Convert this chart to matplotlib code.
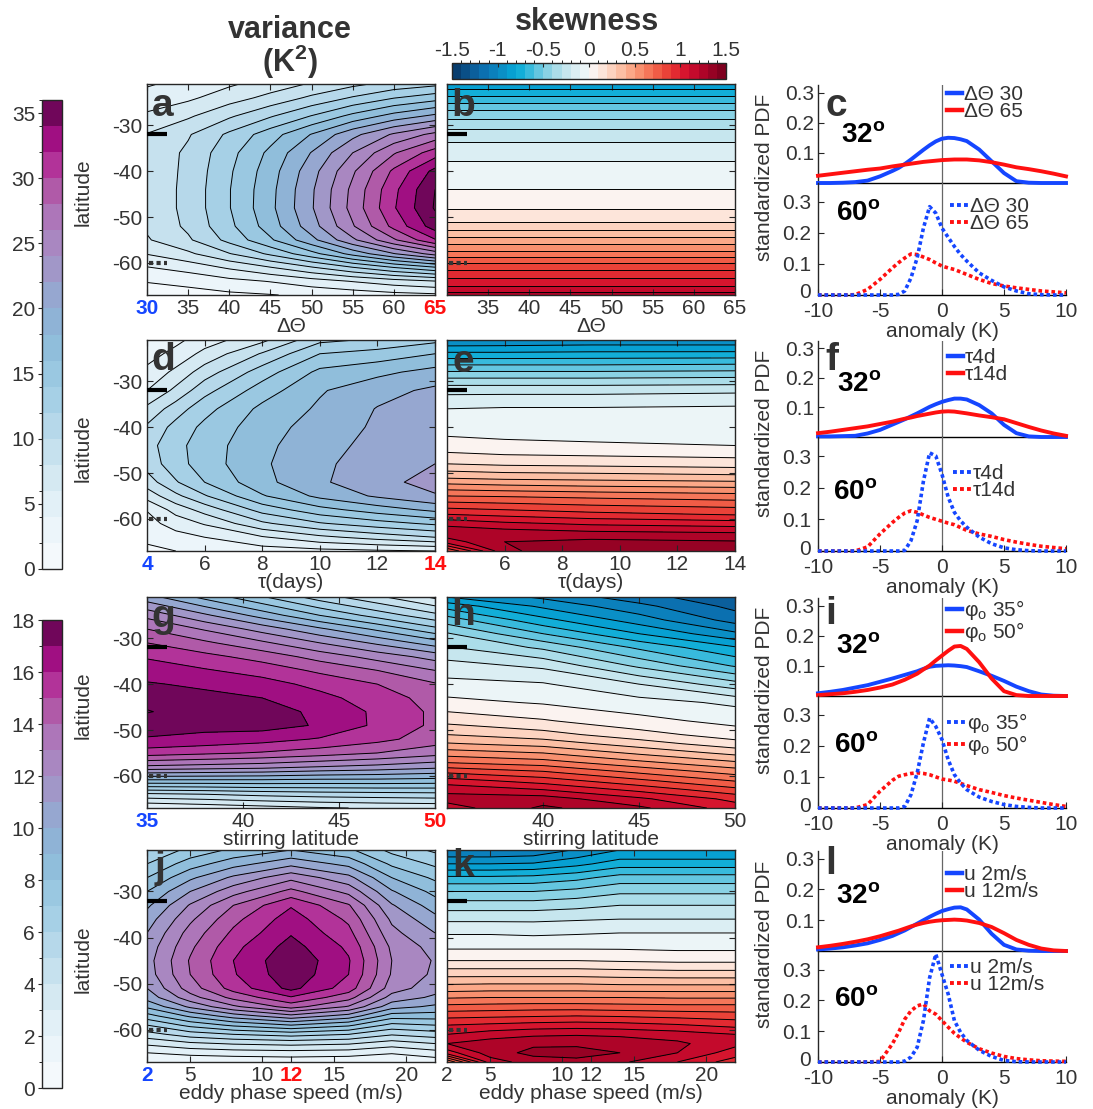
import numpy as np
import matplotlib
matplotlib.use("Agg")
import matplotlib.pyplot as plt
from matplotlib.colors import ListedColormap, BoundaryNorm
from matplotlib.cm import ScalarMappable
from matplotlib.lines import Line2D
from matplotlib.transforms import blended_transform_factory, ScaledTranslation

plt.rcParams['font.family'] = ['Liberation Sans', 'DejaVu Sans']
plt.rcParams['mathtext.fontset'] = 'custom'
plt.rcParams['mathtext.rm'] = 'Liberation Sans'
plt.rcParams['mathtext.it'] = 'Liberation Sans:italic'
plt.rcParams['mathtext.bf'] = 'Liberation Sans:bold'
plt.rcParams['axes.unicode_minus'] = False
plt.rcParams['contour.negative_linestyle'] = 'solid'

# ------------------------------------------------------------------ data
# panel a : variance (K^2) vs Delta Theta (columns) and latitude (rows)
lat_a = [-67, -64, -61, -58, -55, -52, -48, -44, -40, -36, -32, -28, -24, -21]
dtheta = [30, 35, 40, 45, 50, 55, 60, 65]
var_a = [
    [1.0, 1.2, 1.6, 1.9, 2.4, 2.8, 3.3, 3.6],
    [2.1, 2.6, 3.4, 4.1, 5.1, 6.1, 7.1, 7.9],
    [3.9, 4.8, 6.3, 7.9, 9.8, 11.9, 14.0, 15.8],
    [6.1, 7.6, 9.9, 12.4, 15.3, 18.7, 21.9, 24.8],
    [7.8, 9.7, 12.6, 15.7, 19.4, 23.6, 27.7, 31.8],
    [8.3, 10.4, 13.5, 17.0, 21.1, 25.8, 30.6, 35.0],
    [8.5, 10.6, 13.9, 17.5, 21.8, 26.7, 31.8, 36.2],
    [8.5, 10.6, 13.9, 17.4, 21.7, 26.5, 31.5, 36.0],
    [8.5, 10.5, 13.7, 17.1, 21.2, 25.7, 30.4, 34.6],
    [8.5, 10.4, 13.3, 16.5, 20.1, 24.0, 27.8, 31.0],
    [8.1, 9.8, 12.4, 15.1, 18.1, 21.4, 24.3, 26.6],
    [6.4, 7.7, 9.7, 11.8, 14.1, 16.6, 18.8, 20.5],
    [4.7, 5.6, 7.1, 8.6, 10.4, 12.2, 13.9, 15.1],
    [3.8, 4.6, 5.7, 6.9, 8.2, 9.5, 10.7, 11.5],
]

# panel b : skewness, independent of Delta Theta
lat_s = [-67, -65, -63, -61, -59, -57, -55, -53, -51, -48, -44, -40, -36, -32, -29, -26, -23, -21]
dtheta_b = [30, 65]
skew_b = [1.25, 1.09, 0.99, 0.87, 0.72, 0.57, 0.44, 0.31, 0.20, 0.09, 0.0, -0.06, -0.13, -0.25, -0.38, -0.54, -0.74, -0.87]

# panel d : variance vs tau (one list per tau, along lat_a)
tau = [4, 5, 6, 8, 10, 12, 14]
var_d = [
    [1.5, 2.5, 3.3, 4.1, 6.8, 9.0, 10.8, 11.2, 10.3, 8.5, 6.0, 4.5, 3.2, 2.5],
    [2.0, 3.3, 4.8, 6.8, 9.5, 11.8, 13.2, 13.4, 12.7, 11.0, 8.5, 6.5, 4.6, 3.5],
    [2.3, 4.0, 6.2, 8.8, 11.8, 14.0, 15.0, 15.0, 14.5, 13.3, 11.3, 9.0, 6.6, 5.0],
    [3.0, 5.8, 9.6, 12.8, 15.8, 17.4, 17.7, 17.5, 17.1, 16.5, 15.0, 13.0, 10.2, 7.5],
    [3.4, 7.5, 11.8, 15.3, 18.5, 19.7, 19.6, 19.3, 18.9, 18.3, 17.8, 16.5, 14.0, 11.5],
    [3.7, 8.8, 13.2, 17.0, 20.3, 21.3, 21.0, 20.6, 20.3, 20.1, 19.3, 17.5, 14.8, 12.3],
    [4.0, 10.0, 14.4, 18.5, 21.8, 22.8, 22.0, 21.5, 21.2, 20.9, 20.4, 18.7, 16.0, 13.5],
]

# panel e : skewness vs tau (along lat_s)
tau_e = [4, 6, 9, 14]
skew_e = [
    [0.80, 1.15, 1.27, 1.17, 1.00, 0.85, 0.70, 0.55, 0.39, 0.20, 0.04, -0.04, -0.10, -0.23, -0.42, -0.63, -0.85, -0.99],
    [1.28, 1.30, 1.25, 1.12, 0.97, 0.83, 0.69, 0.53, 0.37, 0.18, 0.02, -0.04, -0.09, -0.23, -0.42, -0.63, -0.85, -0.98],
    [1.38, 1.33, 1.22, 1.08, 0.93, 0.80, 0.67, 0.51, 0.36, 0.17, 0.01, -0.04, -0.09, -0.23, -0.42, -0.63, -0.84, -0.97],
    [1.38, 1.31, 1.20, 1.05, 0.89, 0.77, 0.64, 0.49, 0.34, 0.15, 0.00, -0.03, -0.08, -0.22, -0.41, -0.62, -0.84, -0.97],
]

# panel g : variance vs stirring latitude
lat_g = [-67, -64, -61, -58, -55, -52, -49, -46, -43, -40, -37, -34, -31, -28, -25, -21]
phi = [35, 38, 41, 44, 47, 50]
var_g = [
    [2.0, 4.8, 8.8, 12.8, 15.5, 16.9, 17.5, 18.05, 17.7, 17.1, 16.5, 15.9, 15.0, 14.0, 12.7, 10.4],
    [2.3, 5.0, 8.8, 12.6, 15.2, 16.7, 17.3, 17.6, 17.3, 16.8, 16.1, 15.3, 14.2, 12.9, 11.2, 8.7],
    [2.6, 5.3, 8.8, 12.4, 14.9, 16.4, 17.4, 17.4, 17.0, 16.4, 15.6, 14.6, 13.2, 11.6, 9.6, 7.1],
    [2.9, 5.5, 8.7, 12.0, 14.5, 15.9, 16.9, 16.8, 16.3, 15.7, 14.8, 13.6, 12.0, 10.2, 8.0, 5.5],
    [3.1, 5.6, 8.7, 11.7, 14.0, 15.3, 15.8, 15.8, 15.5, 15.0, 14.0, 12.6, 10.8, 8.8, 6.6, 4.2],
    [3.2, 5.7, 8.6, 11.3, 13.4, 14.5, 14.8, 14.8, 14.6, 14.1, 13.0, 11.6, 9.5, 7.3, 5.3, 2.8],
]

# panel h : skewness vs stirring latitude (along lat_s)
phi_h = [35, 40, 45, 50]
skew_h = [
    [1.15, 1.24, 1.17, 1.04, 0.87, 0.69, 0.55, 0.41, 0.30, 0.17, 0.03, -0.07, -0.16, -0.29, -0.39, -0.55, -0.74, -0.90],
    [1.32, 1.25, 1.10, 0.95, 0.80, 0.64, 0.50, 0.36, 0.24, 0.11, -0.01, -0.09, -0.22, -0.42, -0.60, -0.77, -0.92, -1.02],
    [1.22, 1.12, 0.97, 0.82, 0.67, 0.52, 0.38, 0.25, 0.14, 0.03, -0.06, -0.20, -0.42, -0.62, -0.80, -0.95, -1.07, -1.16],
    [1.05, 0.97, 0.83, 0.69, 0.55, 0.41, 0.27, 0.14, 0.05, -0.03, -0.12, -0.36, -0.61, -0.79, -0.98, -1.14, -1.23, -1.28],
]

# panel j : variance vs eddy phase speed
lat_j = [-67, -65, -63, -61, -59, -57, -55, -53, -51, -48, -45, -42, -39, -36, -33, -30, -27, -24, -21]
speed = [2, 5, 8, 12, 16, 19, 22]
var_j = [
    [1.0, 2.0, 3.2, 4.6, 6.0, 7.6, 9.2, 10.4, 11.0, 11.5, 11.6, 11.4, 11.0, 10.5, 9.8, 9.0, 8.0, 7.0, 6.0],
    [1.2, 2.3, 3.8, 5.5, 7.3, 9.2, 11.2, 12.6, 13.5, 14.0, 14.1, 13.8, 13.4, 12.8, 12.1, 11.0, 9.8, 8.5, 7.3],
    [1.2, 2.5, 4.1, 6.0, 8.2, 10.5, 12.8, 14.3, 15.4, 15.9, 16.0, 15.7, 15.2, 14.7, 14.0, 12.6, 11.2, 9.6, 8.2],
    [1.3, 2.6, 4.3, 6.4, 9.0, 11.7, 14.4, 15.9, 17.3, 17.7, 17.8, 17.4, 16.9, 16.5, 15.9, 14.3, 12.7, 10.7, 9.0],
    [1.2, 2.5, 4.1, 6.0, 8.2, 10.6, 12.9, 14.4, 15.5, 16.0, 16.1, 15.8, 15.3, 14.8, 14.1, 12.7, 11.3, 9.7, 8.2],
    [1.1, 2.1, 3.5, 5.1, 6.7, 8.5, 10.4, 11.6, 12.5, 12.9, 13.0, 12.8, 12.3, 11.8, 11.1, 10.1, 9.0, 7.8, 6.7],
    [1.4, 2.6, 4.0, 5.5, 7.0, 8.5, 9.8, 10.8, 11.4, 11.8, 11.9, 11.6, 11.0, 10.3, 9.5, 8.7, 7.8, 6.8, 5.8],
]

# panel k : skewness vs eddy phase speed (along lat_j)
speed_k = [2, 5, 8, 11, 14, 18, 22]
skew_k = [
    [0.60, 1.05, 1.20, 1.10, 1.00, 0.87, 0.73, 0.59, 0.45, 0.27, 0.10, -0.02, -0.11, -0.22, -0.35, -0.50, -0.68, -0.90, -1.10],
    [1.15, 1.25, 1.25, 1.15, 1.02, 0.88, 0.74, 0.60, 0.46, 0.27, 0.10, -0.02, -0.11, -0.22, -0.35, -0.50, -0.68, -0.90, -1.10],
    [1.25, 1.33, 1.28, 1.18, 1.04, 0.89, 0.75, 0.60, 0.46, 0.27, 0.10, -0.02, -0.12, -0.22, -0.35, -0.50, -0.67, -0.89, -1.08],
    [1.27, 1.34, 1.28, 1.19, 1.05, 0.90, 0.75, 0.60, 0.46, 0.27, 0.10, -0.02, -0.11, -0.21, -0.33, -0.47, -0.63, -0.83, -0.99],
    [1.22, 1.30, 1.26, 1.18, 1.04, 0.89, 0.74, 0.60, 0.45, 0.26, 0.09, -0.02, -0.10, -0.20, -0.30, -0.42, -0.56, -0.75, -0.90],
    [1.10, 1.20, 1.22, 1.15, 1.01, 0.87, 0.73, 0.59, 0.45, 0.25, 0.08, -0.03, -0.10, -0.20, -0.30, -0.42, -0.56, -0.75, -0.90],
    [0.95, 1.05, 1.13, 1.10, 0.97, 0.85, 0.73, 0.59, 0.45, 0.25, 0.08, -0.03, -0.10, -0.20, -0.30, -0.42, -0.56, -0.75, -0.90],
]

# latitudes marked on the contour panels (solid: 32S, dotted: 60S)
mark_solid = -32
mark_dotted = -60

# standardized PDFs
pdf_x = [-10, -9, -8, -7, -6, -5, -4, -3.5, -3, -2.5, -2, -1.5, -1, -0.5, 0, 0.5, 1, 1.5, 2, 3, 4, 5, 6, 7, 8, 9, 10]
c32_blue = [0, 0, 0.001, 0.003, 0.008, 0.022, 0.04, 0.05, 0.063, 0.078, 0.094, 0.11, 0.125, 0.138, 0.147, 0.15, 0.149, 0.145, 0.139, 0.111, 0.072, 0.033, 0.006, 0.001, 0, 0, 0]
c32_red = [0.024, 0.029, 0.034, 0.039, 0.044, 0.048, 0.055, 0.058, 0.061, 0.064, 0.067, 0.07, 0.072, 0.074, 0.076, 0.077, 0.078, 0.078, 0.078, 0.075, 0.069, 0.061, 0.052, 0.046, 0.039, 0.031, 0.022]
c60_blue = [0, 0, 0, 0, 0, 0, 0, 0.002, 0.013, 0.055, 0.12, 0.215, 0.284, 0.263, 0.215, 0.185, 0.156, 0.13, 0.109, 0.071, 0.047, 0.026, 0.013, 0.004, 0.001, 0, 0]
c60_red = [0, 0, 0, 0.001, 0.018, 0.05, 0.087, 0.104, 0.119, 0.132, 0.13, 0.122, 0.114, 0.103, 0.093, 0.087, 0.082, 0.074, 0.066, 0.05, 0.037, 0.029, 0.023, 0.018, 0.013, 0.01, 0.007]
f32_blue = [0.002, 0.002, 0.003, 0.004, 0.012, 0.024, 0.042, 0.051, 0.06, 0.07, 0.08, 0.091, 0.102, 0.111, 0.119, 0.125, 0.13, 0.13, 0.127, 0.108, 0.08, 0.041, 0.013, 0.002, 0, 0, 0]
f32_red = [0.013, 0.018, 0.024, 0.03, 0.036, 0.044, 0.052, 0.057, 0.062, 0.066, 0.071, 0.075, 0.079, 0.083, 0.086, 0.087, 0.086, 0.083, 0.08, 0.073, 0.067, 0.06, 0.047, 0.034, 0.022, 0.012, 0.004]
f60_blue = [0, 0, 0, 0, 0, 0, 0, 0, 0.002, 0.033, 0.096, 0.22, 0.31, 0.3, 0.242, 0.17, 0.122, 0.095, 0.075, 0.044, 0.023, 0.01, 0.004, 0.001, 0, 0, 0]
f60_red = [0, 0, 0, 0, 0.013, 0.054, 0.09, 0.106, 0.12, 0.127, 0.122, 0.114, 0.106, 0.1, 0.094, 0.088, 0.083, 0.074, 0.065, 0.054, 0.046, 0.036, 0.028, 0.021, 0.015, 0.011, 0.007]
i32_blue = [0.009, 0.014, 0.02, 0.028, 0.036, 0.047, 0.058, 0.064, 0.07, 0.076, 0.082, 0.09, 0.097, 0.1, 0.101, 0.102, 0.101, 0.099, 0.096, 0.082, 0.067, 0.05, 0.031, 0.016, 0.005, 0.001, 0]
i32_red = [0.003, 0.006, 0.009, 0.014, 0.02, 0.028, 0.038, 0.046, 0.054, 0.064, 0.074, 0.088, 0.101, 0.118, 0.134, 0.15, 0.164, 0.166, 0.156, 0.112, 0.058, 0.016, 0.003, 0, 0, 0, 0]
i60_blue = [0, 0, 0, 0, 0, 0, 0, 0, 0.005, 0.043, 0.113, 0.209, 0.289, 0.262, 0.22, 0.155, 0.107, 0.08, 0.059, 0.035, 0.021, 0.011, 0.005, 0.002, 0, 0, 0]
i60_red = [0, 0, 0, 0, 0.011, 0.054, 0.089, 0.102, 0.107, 0.111, 0.113, 0.111, 0.107, 0.1, 0.093, 0.09, 0.086, 0.079, 0.072, 0.059, 0.05, 0.04, 0.032, 0.025, 0.018, 0.011, 0.005]
l32_blue = [0.005, 0.008, 0.012, 0.018, 0.025, 0.036, 0.049, 0.058, 0.067, 0.078, 0.089, 0.1, 0.111, 0.121, 0.13, 0.136, 0.141, 0.142, 0.135, 0.102, 0.056, 0.02, 0.005, 0.001, 0, 0, 0]
l32_red = [0.012, 0.017, 0.023, 0.03, 0.038, 0.048, 0.06, 0.066, 0.073, 0.08, 0.086, 0.091, 0.095, 0.098, 0.1, 0.101, 0.102, 0.101, 0.099, 0.091, 0.078, 0.058, 0.036, 0.02, 0.008, 0.002, 0]
l60_blue = [0, 0, 0, 0, 0, 0, 0, 0, 0.003, 0.016, 0.048, 0.134, 0.273, 0.35, 0.284, 0.22, 0.134, 0.096, 0.07, 0.038, 0.018, 0.005, 0.001, 0, 0, 0, 0]
l60_red = [0, 0, 0, 0, 0, 0.002, 0.059, 0.096, 0.139, 0.166, 0.182, 0.188, 0.166, 0.155, 0.134, 0.113, 0.093, 0.078, 0.064, 0.043, 0.029, 0.018, 0.011, 0.007, 0.004, 0.003, 0.002]

legend_c = ['ΔΘ 30', 'ΔΘ 65']
legend_f = ['τ4d', 'τ14d']
legend_i = [r'φ$_\mathrm{o}$ 35°', r'φ$_\mathrm{o}$ 50°']
legend_l = ['u 2m/s', 'u 12m/s']

# ------------------------------------------------------------------ styles
VAR_COLORS = ['#f4f9fc', '#ecf5fa', '#e2f0f7', '#d5e9f2', '#c6e1ee', '#b6d8ea',
              '#a6d0e6', '#9ac8e1', '#90bedb', '#8fb3d6', '#96a7d0', '#a197c8',
              '#a987c1', '#ad76b9', '#b05aa8', '#b23399', '#a00f82', '#70065a']
SKEW_COLORS = ['#083d6e', '#0a4f86', '#0b5f9c', '#0b70b0', '#0b80bc', '#0a8fc6',
               '#07a0d2', '#12aed8', '#38badc', '#64c6e0', '#8ad2e4', '#abdde9',
               '#c6e6ee', '#dbeef3', '#ecf5f7', '#fbf3f0', '#fde5da', '#fdd3c0',
               '#fcbfa4', '#fba888', '#f8906f', '#f57659', '#f05c46', '#ea4238',
               '#e22a31', '#d6152e', '#c40a2c', '#ae0428', '#960224', '#7f001f']
LEV_VAR36 = np.arange(0, 37, 2)
LEV_VAR18 = np.arange(0, 19, 1)
LEV_SKEW = np.round(np.arange(-15, 16) / 10.0, 2)

TXT = '#333333'
EDGE = '#262626'
BLUE = '#1546ff'
RED = '#ff1010'
FS = 15      # tick / label font size
FS_LEG = 15

W, H = 1093, 1109
fig = plt.figure(figsize=(W / 100, H / 100), dpi=100)


def fx(x):
    return x / W


def fy(y):
    return 1 - y / H


def px_axes(x0, y0, x1, y1):
    return fig.add_axes([x0 / W, 1 - y1 / H, (x1 - x0) / W, (y1 - y0) / H])


ROWS = [(84, 295), (340, 551), (597, 808), (850, 1062)]
BASE = [183, 437, 696, 951]
COL1 = (147, 435)
COL2 = (447, 735)
PDFX = (818, 1066)


def contour_panel(col, row, x, lat, Z, levels, colors, xticks, xlabels, special,
                  xlabel, letter, letter_xy, show_ylabels):
    ax = px_axes(col[0], ROWS[row][0], col[1], ROWS[row][1])
    cmap = ListedColormap(colors).with_extremes(over=colors[-1], under=colors[0])
    Z = np.asarray(Z, dtype=float)
    ax.contourf(x, lat, Z, levels=levels, cmap=cmap, extend='both')
    ax.contour(x, lat, Z, levels=levels, colors='k', linewidths=0.7,
               negative_linestyles='solid')
    ax.set_xlim(x[0], x[-1])
    ax.set_ylim(-67, -21)
    ax.set_yticks([-60, -50, -40, -30])
    ax.tick_params(direction='in', length=4, width=0.8, top=True, right=True,
                   labelsize=FS, color=EDGE, labelcolor=TXT, pad=3)
    if show_ylabels:
        ax.set_yticklabels(['-60', '-50', '-40', '-30'])
    else:
        ax.set_yticklabels([])
    ax.set_xticks(xticks)
    ax.set_xticklabels(xlabels)
    for i, lbl in enumerate(ax.get_xticklabels()):
        if i in special:
            lbl.set_color(special[i])
            lbl.set_fontweight('bold')
    for s in ax.spines.values():
        s.set_color(EDGE)
        s.set_linewidth(1.0)
    ax.set_xlabel(xlabel, fontsize=FS, color=TXT, labelpad=-1)
    tr = blended_transform_factory(ax.transAxes, ax.transData)
    ax.plot([0, 0.07], [mark_solid, mark_solid], color='k', lw=3, transform=tr,
            solid_capstyle='butt', clip_on=False, zorder=5)
    ax.plot([0.006, 0.07], [mark_dotted, mark_dotted], color='#333333', lw=3,
            ls=(0, (1, 0.8)), transform=tr, clip_on=False, zorder=5)
    fig.text(fx(letter_xy[0]), fy(letter_xy[1]), letter, fontsize=28,
             fontweight='bold', color=TXT, ha='center', va='center')
    return ax


def pdf_panel(row, top, bot, labels, letter, letter_xy, t32, t60, leg_top, leg_bot):
    y0, y1 = ROWS[row]
    yb = BASE[row]
    axt = px_axes(PDFX[0], y0 + 1, PDFX[1], yb)
    axb = px_axes(PDFX[0], yb, PDFX[1], y1)
    for ax in (axt, axb):
        ax.set_xlim(-10, 10)
        ax.spines['top'].set_visible(False)
        ax.spines['right'].set_visible(False)
        ax.spines['left'].set_color(EDGE)
        ax.spines['bottom'].set_color('k')
        ax.spines['left'].set_linewidth(1.0)
        ax.spines['bottom'].set_linewidth(1.0)
        ax.axvline(0, color='#666666', lw=0.9, zorder=1)
        ax.tick_params(direction='in', length=4, width=0.8, labelsize=FS,
                       color=EDGE, labelcolor=TXT, pad=3)
        ax.patch.set_alpha(0)
    axt.set_ylim(0, 0.325)
    axt.set_yticks([0.1, 0.2, 0.3])
    axt.set_yticklabels(['0.1', '0.2', '0.3'])
    axt.tick_params(bottom=False, labelbottom=False)
    axb.set_ylim(0, 0.36)
    axb.set_yticks([0, 0.1, 0.2, 0.3])
    axb.set_yticklabels(['0', '0.1', '0.2', '0.3'])
    axb.set_xticks([-10, -5, 0, 5, 10])
    axb.set_xticklabels(['-10', '-5', '0', '5', '10'])
    axb.tick_params(axis='x', pad=5)
    axb.tick_params(axis='y', pad=5)
    # lift the "0" label a little so it clears the "-10" label below it
    zero_lbl = axb.get_yticklabels()[0]
    zero_lbl.set_transform(zero_lbl.get_transform() + ScaledTranslation(0, 4 / 100, fig.dpi_scale_trans))
    axb.set_xlabel('anomaly (K)', fontsize=FS, color=TXT, labelpad=1)

    axt.plot(pdf_x, top[0], color=BLUE, lw=2.8, clip_on=False, zorder=3)
    axt.plot(pdf_x, top[1], color=RED, lw=2.8, clip_on=False, zorder=4)
    dots = (0, (1, 0.8))
    axb.plot(pdf_x, bot[1], color=RED, lw=2.6, ls=dots, clip_on=False, zorder=3)
    axb.plot(pdf_x, bot[0], color=BLUE, lw=2.6, ls=dots, clip_on=False, zorder=4)

    hs = [Line2D([], [], color=BLUE, lw=3.2), Line2D([], [], color=RED, lw=3.2)]
    axt.legend(hs, labels, loc='center left', bbox_to_anchor=(fx(leg_top[0]), fy(leg_top[1])),
               bbox_transform=fig.transFigure, frameon=False, fontsize=FS_LEG,
               handlelength=0.7, handletextpad=0.12, labelspacing=-0.1,
               borderpad=0, borderaxespad=0, labelcolor=TXT)
    hd = [Line2D([], [], color=BLUE, lw=2.8, ls=dots), Line2D([], [], color=RED, lw=2.8, ls=dots)]
    axb.legend(hd, labels, loc='center left', bbox_to_anchor=(fx(leg_bot[0]), fy(leg_bot[1])),
               bbox_transform=fig.transFigure, frameon=False, fontsize=FS_LEG,
               handlelength=0.85, handletextpad=0.12, labelspacing=-0.1,
               borderpad=0, borderaxespad=0, labelcolor=TXT)

    fig.text(fx(letter_xy[0]), fy(letter_xy[1]), letter, fontsize=28,
             fontweight='bold', color=TXT, ha='center', va='center')
    fig.text(fx(t32[0]), fy(t32[1]), r'32$^{\mathbf{o}}$', fontsize=20,
             fontweight='bold', color='k', ha='center', va='center')
    fig.text(fx(t60[0]), fy(t60[1]), r'60$^{\mathbf{o}}$', fontsize=20,
             fontweight='bold', color='k', ha='center', va='center')
    fig.text(fx(765), fy((y0 + y1) / 2 - 12), 'standardized PDF', fontsize=FS,
             color=TXT, rotation=90, ha='center', va='center')


# ------------------------------------------------------------------ row 1
contour_panel(COL1, 0, dtheta, lat_a, var_a, LEV_VAR36, VAR_COLORS,
              dtheta, [str(v) for v in dtheta], {0: BLUE, 7: RED},
              'ΔΘ', 'a', (163, 106), True)
contour_panel(COL2, 0, dtheta_b, lat_s, np.column_stack([skew_b, skew_b]), LEV_SKEW, SKEW_COLORS,
              dtheta, [''] + [str(v) for v in dtheta[1:]], {},
              'ΔΘ', 'b', (463, 106), False)
pdf_panel(0, (c32_blue, c32_red), (c60_blue, c60_red), legend_c, 'c', (836, 106),
          (863, 135), (858, 213), (947, 103), (950, 215))

# ------------------------------------------------------------------ row 2
tau_ticks = [4, 6, 8, 10, 12, 14]
contour_panel(COL1, 1, tau, lat_a, np.array(var_d).T, LEV_VAR36, VAR_COLORS,
              tau_ticks, [str(v) for v in tau_ticks], {0: BLUE, 5: RED},
              'τ(days)', 'd', (163, 360), True)
contour_panel(COL2, 1, tau_e, lat_s, np.array(skew_e).T, LEV_SKEW, SKEW_COLORS,
              tau_ticks, [''] + [str(v) for v in tau_ticks[1:]], {},
              'τ(days)', 'e', (463, 362), False)
pdf_panel(1, (f32_blue, f32_red), (f60_blue, f60_red), legend_f, 'f', (832, 360),
          (859, 384), (855, 492), (948, 366), (953, 482))

# ------------------------------------------------------------------ row 3
phi_ticks = [35, 40, 45, 50]
contour_panel(COL1, 2, phi, lat_g, np.array(var_g).T, LEV_VAR18, VAR_COLORS,
              phi_ticks, [str(v) for v in phi_ticks], {0: BLUE, 3: RED},
              'stirring latitude', 'g', (163, 617), True)
contour_panel(COL2, 2, phi_h, lat_s, np.array(skew_h).T, LEV_SKEW, SKEW_COLORS,
              phi_ticks, [''] + [str(v) for v in phi_ticks[1:]], {},
              'stirring latitude', 'h', (463, 615), False)
pdf_panel(2, (i32_blue, i32_red), (i60_blue, i60_red), legend_i, 'i', (831, 614),
          (858, 646), (856, 745), (947, 621), (947, 734))

# ------------------------------------------------------------------ row 4
speed_ticks = [2, 5, 10, 12, 15, 20]
contour_panel(COL1, 3, speed, lat_j, np.array(var_j).T, LEV_VAR18, VAR_COLORS,
              speed_ticks, [str(v) for v in speed_ticks], {0: BLUE, 3: RED},
              'eddy phase speed (m/s)', 'j', (160, 868), True)
contour_panel(COL2, 3, speed_k, lat_j, np.array(skew_k).T, LEV_SKEW, SKEW_COLORS,
              speed_ticks, [str(v) for v in speed_ticks], {},
              'eddy phase speed (m/s)', 'k', (463, 866), False)
pdf_panel(3, (l32_blue, l32_red), (l60_blue, l60_red), legend_l, 'l', (831, 864),
          (858, 896), (856, 999), (947, 883), (950, 976))

# ------------------------------------------------------------------ latitude labels
for (y0, y1) in ROWS:
    fig.text(fx(83), fy((y0 + y1) / 2 + 3), 'latitude', fontsize=FS, color=TXT,
             rotation=90, ha='center', va='center')

# ------------------------------------------------------------------ colorbars
def vcolorbar(box, levels, ticks):
    cax = px_axes(*box)
    norm = BoundaryNorm(levels, len(VAR_COLORS))
    sm = ScalarMappable(norm=norm, cmap=ListedColormap(VAR_COLORS))
    cb = fig.colorbar(sm, cax=cax, orientation='vertical', ticks=ticks)
    cax.yaxis.set_ticks_position('left')
    cax.yaxis.set_label_position('left')
    cax.tick_params(labelsize=FS, direction='out', length=3, width=0.8,
                    color=EDGE, labelcolor=TXT, pad=2)
    cax.set_yticklabels([str(t) for t in ticks])
    cb.outline.set_edgecolor(EDGE)
    cb.outline.set_linewidth(1.0)


vcolorbar((42, 100, 62, 569), LEV_VAR36, list(range(0, 36, 5)))
vcolorbar((42, 620, 62, 1088), LEV_VAR18, list(range(0, 19, 2)))

cax = px_axes(452, 63, 726, 79)
sm = ScalarMappable(norm=BoundaryNorm(LEV_SKEW, len(SKEW_COLORS)), cmap=ListedColormap(SKEW_COLORS))
skew_ticks = [-1.5, -1, -0.5, 0, 0.5, 1, 1.5]
cb = fig.colorbar(sm, cax=cax, orientation='horizontal', ticks=skew_ticks)
cax.xaxis.set_ticks_position('top')
cax.xaxis.set_label_position('top')
cax.tick_params(labelsize=FS, direction='in', length=3, width=0.8,
                color=EDGE, labelcolor=TXT, pad=2)
cax.set_xticklabels(['-1.5', '-1', '-0.5', '0', '0.5', '1', '1.5'])
cb.outline.set_edgecolor(EDGE)
cb.outline.set_linewidth(1.0)

# ------------------------------------------------------------------ titles
fig.text(fx(290), fy(30), 'variance', fontsize=22, fontweight='bold', color=TXT,
         ha='center', va='center')
fig.text(fx(290), fy(62), r'(K$^{\mathbf{2}}$)', fontsize=22, fontweight='bold', color=TXT,
         ha='center', va='center')
fig.text(fx(587), fy(22), 'skewness', fontsize=22, fontweight='bold', color=TXT,
         ha='center', va='center')

fig.savefig('out.png', dpi=100)
